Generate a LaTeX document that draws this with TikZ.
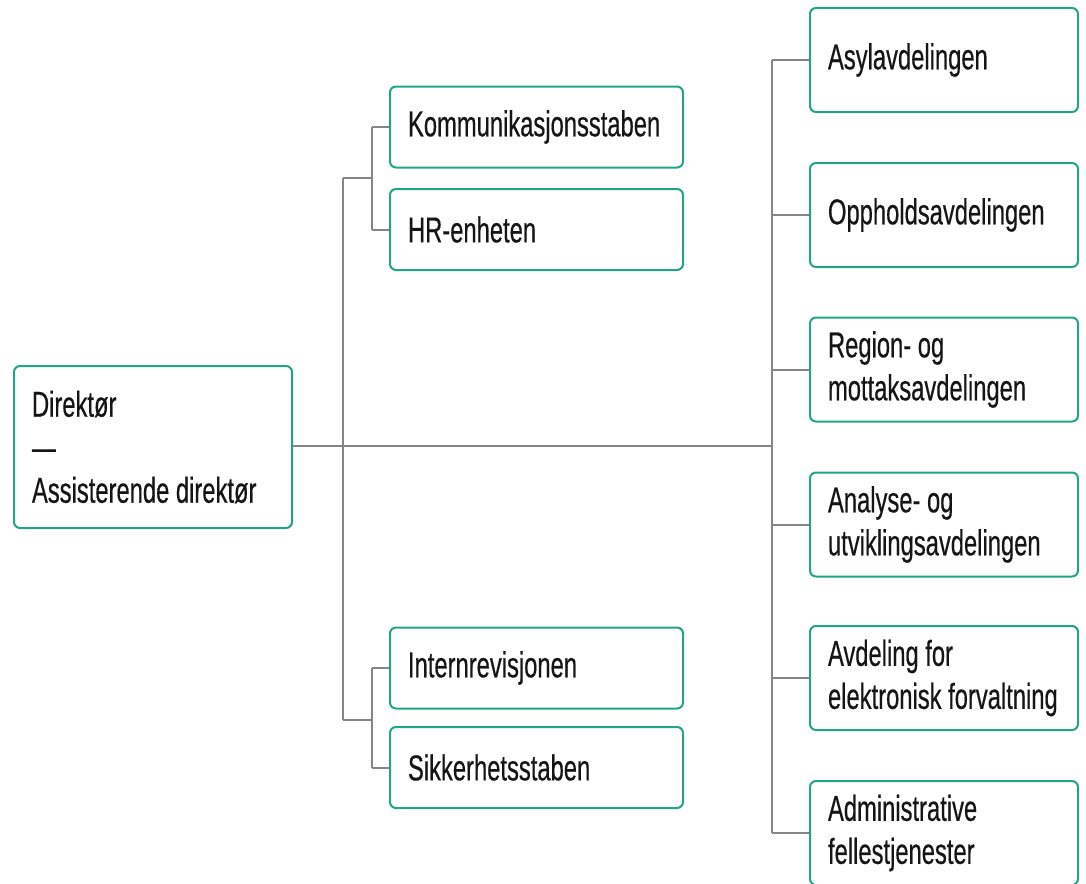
\documentclass[tikz,border=0pt]{standalone}
\usepackage{fontspec}
\setmainfont{Liberation Sans}[FakeStretch=0.66,FakeBold=0.4]
\hyphenpenalty=10000
\exhyphenpenalty=10000
\hbadness=10000
\hfuzz=50pt
\newcommand{\wsp}{\hspace*{6.6pt}}
\definecolor{boxline}{HTML}{22A586}
\definecolor{conn}{HTML}{858585}
\definecolor{txt}{HTML}{151515}
\begin{document}
\begin{tikzpicture}[x=1pt,y=-1pt,
  unit/.style={draw=boxline, line width=2pt, rounded corners=6pt, fill=white,
    text=txt, align=left, inner xsep=18pt, inner ysep=0pt, anchor=center,
    font=\fontsize{36}{43}\selectfont},
  leftbox/.style={unit, minimum width=293pt, text width=257pt, minimum height=81pt},
  rightbox/.style={unit, minimum width=268pt, text width=232pt, minimum height=104pt},
  link/.style={draw=conn, line width=2pt}]
\clip (0,0) rectangle (1086,883);
\fill[white] (0,0) rectangle (1086,883);

\node[unit, minimum width=278pt, text width=242pt, minimum height=162pt] (dir) at (153,447)
  {Direktør\\—\\\mbox{Assisterende\wsp direktør}};

\node[leftbox] (kom) at (536.5,127) {\raisebox{-5pt}{Kommunikasjonsstaben}};
\node[leftbox] (hr) at (536.5,229.5) {\raisebox{-5pt}{HR-enheten}};
\node[leftbox] (int) at (536.5,668) {\raisebox{-5pt}{Internrevisjonen}};
\node[leftbox] (sik) at (536.5,767.5) {\raisebox{-5pt}{Sikkerhetsstaben}};

\node[rightbox] (asyl) at (944,60) {\raisebox{-5pt}{Asylavdelingen}};
\node[rightbox] (opp) at (944,215) {\raisebox{-5pt}{Oppholdsavdelingen}};
\node[rightbox] (reg) at (944,369.5) {\raisebox{-3pt}{Region-\wsp og}\\\raisebox{-3pt}{mottaksavdelingen}};
\node[rightbox] (ana) at (944,524.5) {\raisebox{-3pt}{Analyse-\wsp og}\\\raisebox{-3pt}{utviklingsavdelingen}};
\node[rightbox] (avd) at (944,678) {\raisebox{-3pt}{Avdeling\wsp for}\\\raisebox{-3pt}{\mbox{elektronisk\wsp forvaltning}}};
\node[rightbox] (adm) at (944,833) {\raisebox{-3pt}{Administrative}\\\raisebox{-3pt}{fellestjenester}};

\coordinate (lt) at (343,446);
\coordinate (rt) at (772,446);
\coordinate (jtop) at (372,178);
\coordinate (jbot) at (372,720);

% main line
\path[link] (dir.east |- lt) -- (rt);
% left trunk
\path[link] (jtop -| lt) -- (jbot -| lt);
\path[link] (jtop -| lt) -- (jtop);
\path[link] (jbot -| lt) -- (jbot);
\path[link] (kom.west -| jtop) -- (hr.west -| jtop);
\path[link] (int.west -| jbot) -- (sik.west -| jbot);
\path[link] (kom.west -| jtop) -- (kom.west);
\path[link] (hr.west -| jtop) -- (hr.west);
\path[link] (int.west -| jbot) -- (int.west);
\path[link] (sik.west -| jbot) -- (sik.west);
% right trunk
\path[link] (asyl.west -| rt) -- (adm.west -| rt);
\foreach \n in {asyl,opp,reg,ana,avd,adm}
  \path[link] (\n.west -| rt) -- (\n.west);
\end{tikzpicture}
\end{document}
